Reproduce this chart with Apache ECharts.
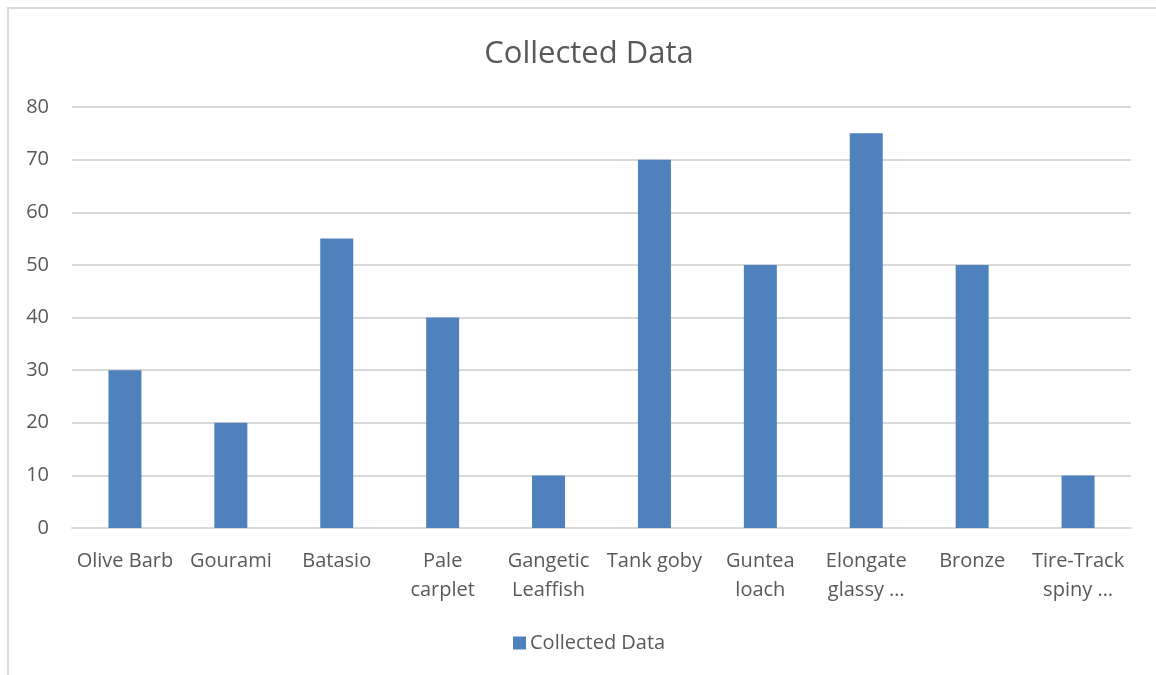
<!DOCTYPE html>
<html>
<head>
<meta charset="utf-8">
<script src="https://cdn.jsdelivr.net/npm/echarts@6/dist/echarts.min.js"></script>
<style>
  html, body { margin: 0; padding: 0; background: #fff; }
  #chart { width: 1156px; height: 675px; }
</style>
</head>
<body>
<div id="chart"></div>
<script>
// Fish species counted and how many of each were collected
const categories = [
  'Olive Barb', 'Gourami', 'Batasio', 'Pale\ncarplet', 'Gangetic\nLeaffish',
  'Tank goby', 'Guntea\nloach', 'Elongate\nglassy …', 'Bronze', 'Tire-Track\nspiny …'
];
const collected = [30, 20, 55, 40, 10, 70, 50, 75, 50, 10];
const seriesName = 'Collected Data';

const FONT = '"Open Sans", "Liberation Sans", sans-serif';
const TEXT = '#595959';

const chart = echarts.init(document.getElementById('chart'), null, { renderer: 'canvas' });
chart.setOption({
  backgroundColor: '#ffffff',
  animation: false,
  textStyle: { fontFamily: FONT },
  graphic: [{
    type: 'rect',
    shape: { x: 8, y: 8, width: 1170, height: 690 },
    style: { fill: 'none', stroke: '#d9d9d9', lineWidth: 2 },
    silent: true
  }],
  title: {
    text: seriesName,
    left: 584, top: 34, textAlign: 'center',
    textStyle: { fontFamily: FONT, fontSize: 31, fontWeight: 'normal', color: TEXT }
  },
  legend: {
    data: [seriesName],
    left: 508, top: 628,
    icon: 'rect', itemWidth: 13, itemHeight: 13, itemGap: 6,
    textStyle: { fontFamily: FONT, fontSize: 20, color: TEXT, padding: [0, 0, 0, -1] }
  },
  grid: { left: 72, right: 25, top: 107, bottom: 147, containLabel: false },
  xAxis: {
    type: 'category',
    data: categories,
    axisLine: { show: true, lineStyle: { color: '#d9d9d9', width: 2 } },
    axisTick: { show: false },
    axisLabel: {
      interval: 0, margin: 19, color: TEXT, fontFamily: FONT, fontSize: 20,
      lineHeight: 29, align: 'center'
    }
  },
  yAxis: {
    type: 'value',
    min: 0, max: 80, interval: 10,
    axisLine: { show: false },
    axisTick: { show: false },
    splitLine: { lineStyle: { color: '#d9d9d9', width: 2 } },
    axisLabel: { margin: 23, color: TEXT, fontFamily: FONT, fontSize: 20 }
  },
  series: [{
    name: seriesName,
    type: 'bar',
    data: collected,
    barWidth: 33,
    itemStyle: { color: '#4f81bd' }
  }]
});
</script>
</body>
</html>
